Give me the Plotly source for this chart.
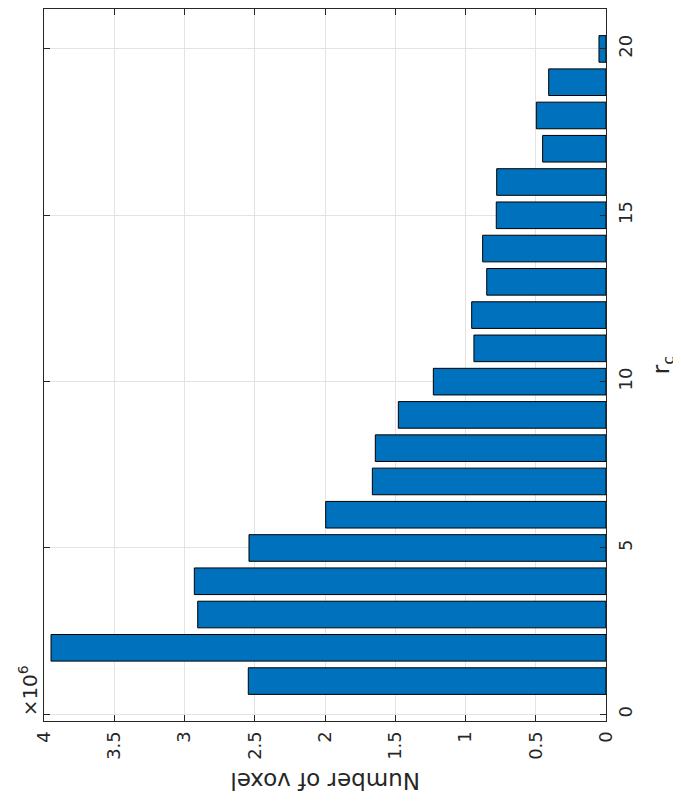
import plotly.graph_objects as go

# r_c classes and voxel counts
r_c = list(range(1, 21))
voxels = [2.546e6, 3.950e6, 2.906e6, 2.930e6, 2.541e6, 1.995e6, 1.663e6, 1.642e6,
          1.478e6, 1.229e6, 0.940e6, 0.956e6, 0.849e6, 0.878e6, 0.781e6, 0.778e6,
          0.451e6, 0.496e6, 0.408e6, 0.050e6]

count_ticks = [0, 0.5e6, 1e6, 1.5e6, 2e6, 2.5e6, 3e6, 3.5e6, 4e6]
count_labels = ['0', '0.5', '1', '1.5', '2', '2.5', '3', '3.5', '4']
rc_ticks = [0, 5, 10, 15, 20]

font_family = "DejaVu Sans"
axis_col = '#262626'

fig = go.Figure(go.Bar(
    x=voxels,
    y=r_c,
    orientation='h',
    width=0.8,
    marker=dict(color='#0072BD', line=dict(color='#000000', width=1)),
))

# page body has an 8px margin, so the figure is 8px smaller on each side
fig.update_layout(
    width=673, height=797,
    paper_bgcolor='white', plot_bgcolor='white',
    margin=dict(l=36, r=75, t=1, b=84),
    showlegend=False,
    font=dict(family=font_family, size=18, color=axis_col),
    annotations=[
        dict(text='Number of voxel', textangle=180, showarrow=False,
             xref='paper', yref='paper', x=0.5, y=-0.084,
             xanchor='center', yanchor='middle',
             font=dict(size=23, color=axis_col)),
        dict(text='r<sub>c</sub>', textangle=-90, showarrow=False,
             xref='paper', yref='paper', x=1.102, y=0.5,
             xanchor='center', yanchor='middle',
             font=dict(size=23, color=axis_col)),
        dict(text='×10<sup>6</sup>', textangle=-90, showarrow=False,
             xref='paper', yref='paper', x=-0.028, y=0.042,
             xanchor='center', yanchor='middle',
             font=dict(size=20, color=axis_col)),
    ],
)

fig.update_xaxes(
    range=[4e6, 0],
    automargin=False,
    tickvals=count_ticks, ticktext=count_labels,
    tickangle=-90,
    ticks='inside', ticklen=6, tickcolor=axis_col,
    ticklabelstandoff=2,
    showline=True, linecolor=axis_col, linewidth=1, mirror='allticks',
    showgrid=True, gridcolor='#e3e3e3', gridwidth=1,
    zeroline=False,
    tickfont=dict(size=18, color=axis_col),
)
fig.update_yaxes(
    range=[-0.2, 21.2],
    automargin=False,
    side='right',
    tickvals=rc_ticks,
    tickangle=-90,
    ticks='inside', ticklen=6, tickcolor=axis_col,
    ticklabelstandoff=3,
    showline=True, linecolor=axis_col, linewidth=1, mirror='allticks',
    showgrid=True, gridcolor='#e3e3e3', gridwidth=1,
    zeroline=False,
    tickfont=dict(size=18, color=axis_col),
)

fig.write_html("out.html")
